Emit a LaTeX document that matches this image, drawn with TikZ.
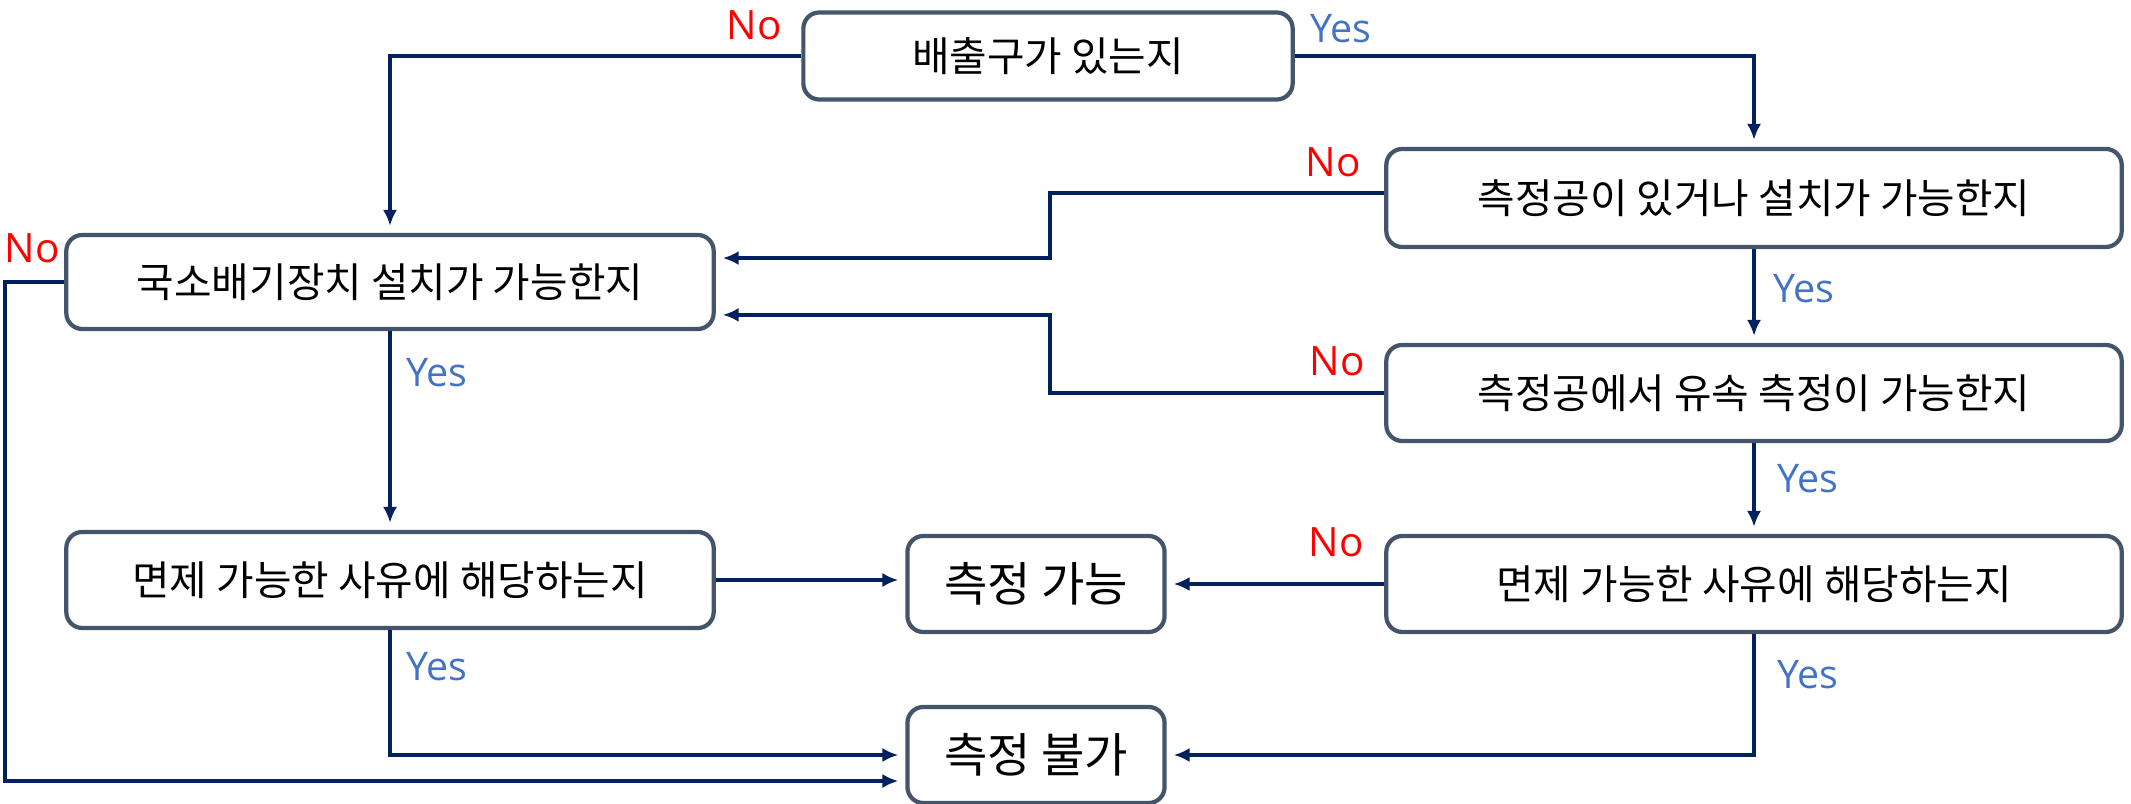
\documentclass[tikz,border=0pt]{standalone}
\usepackage{fontspec}
\setmainfont{Noto Sans CJK KR}
\newfontfamily\ynfont{Open Sans}
\usetikzlibrary{arrows.meta}
\definecolor{navy}{HTML}{002060}
\definecolor{boxcol}{HTML}{44546A}
\definecolor{yescol}{HTML}{4472C4}
\tikzset{
  box/.style={draw=boxcol,line width=1.2pt,rounded corners=0.16cm,fill=white,inner sep=0pt,
    font=\fontsize{11.6pt}{13pt}\selectfont},
  endbox/.style={box,font=\fontsize{13.4pt}{15pt}\selectfont},
  arr/.style={navy,line width=1.1pt,-{Latex[length=4.5pt,width=4pt]},shorten >=2pt},
  yes/.style={text=yescol,font=\ynfont\fontsize{11.2pt}{13pt}\selectfont,inner sep=0pt},
  no/.style={text=red,font=\ynfont\fontsize{11.5pt}{13pt}\selectfont,inner sep=0pt}
}
\begin{document}
\begin{tikzpicture}[x=0.01cm,y=-0.01cm]
  %ramme
  	\useasboundingbox (0,0) rectangle (2131,804);
  %bokse
  	\node[box,minimum width=4.89cm,minimum height=0.87cm] (A) at (1048,56) {배출구가 있는지};
  	\node[box,minimum width=6.47cm,minimum height=0.94cm] (B) at (390,282) {국소배기장치 설치가 가능한지};
  	\node[box,minimum width=7.35cm,minimum height=0.98cm] (C) at (1754,198) {측정공이 있거나 설치가 가능한지};
  	\node[box,minimum width=7.35cm,minimum height=0.96cm] (D) at (1754,393) {측정공에서 유속 측정이 가능한지};
  	\node[box,minimum width=6.47cm,minimum height=0.96cm] (E) at (390,580) {면제 가능한 사유에 해당하는지};
  	\node[box,minimum width=7.35cm,minimum height=0.96cm] (F) at (1754,584) {면제 가능한 사유에 해당하는지};
  	\node[endbox,minimum width=2.57cm,minimum height=0.96cm] (G) at (1036,584) {측정 가능};
  	\node[endbox,minimum width=2.57cm,minimum height=0.96cm] (H) at (1036,755) {측정 불가};

  %pile fra A
  	\draw[arr] (A.west) -| (B.north);
  	\draw[arr] (A.east) -| (C.north);
  %pile fra C og D
  	\draw[arr] ([yshift=1.4pt]C.west) -- ++(-334.5,0) |- ([yshift=6.8pt]B.east);
  	\draw[arr] (D.west) -- ++(-334.5,0) |- ([yshift=-9.35pt]B.east);
  	\draw[arr] (C.south) -- (D.north);
  	\draw[arr] (D.south) -- (F.north);
  %pile fra F
  	\draw[arr] (F.west) -- (G.east);
  	\draw[arr] (F.south) |- (H.east);
  %pile fra B og E
  	\draw[arr] (B.south) -- (E.north);
  	\draw[arr] (E.east) -- (E.east -| G.west);
  	\draw[arr] (E.south) |- (H.west);
  	\draw[arr] (B.west) -- ++(-59.5,0) |- ([yshift=-7.4pt]H.west);

  %Yes / No
  	\node[no] (noA) at (754,25) {No};
  	\node[yes] (yesA) at (1341,29) {Yes};
  	\node[no] (noC) at (1333,162) {No};
  	\node[yes] (yesC) at (1804,289) {Yes};
  	\node[no] (noD) at (1337,361) {No};
  	\node[yes] (yesD) at (1808,479) {Yes};
  	\node[no] (noF) at (1336,542) {No};
  	\node[yes] (yesF) at (1808,675) {Yes};
  	\node[yes] (yesB) at (437,373) {Yes};
  	\node[yes] (yesE) at (437,667) {Yes};
  	\node[no] (noB) at (32,248) {No};
\end{tikzpicture}
\end{document}
